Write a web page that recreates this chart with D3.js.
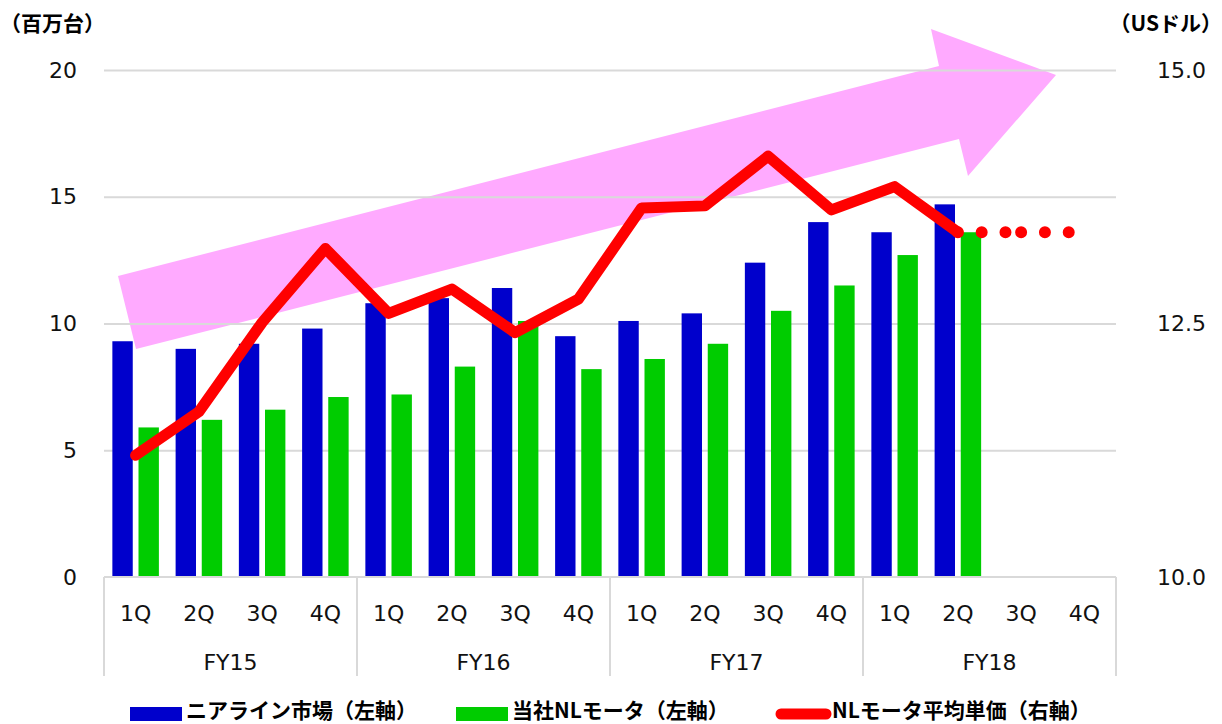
<!DOCTYPE html>
<html>
<head>
<meta charset="utf-8">
<script src="https://cdn.jsdelivr.net/npm/d3@7"></script>
<style>
  body { margin: 0; background: #fff; }
  svg { display: block; }
  .tick text { font-family: "DejaVu Sans", sans-serif; font-size: 22px; fill: #111; }
  .jp { font-family: "Noto Sans CJK JP", sans-serif; font-weight: 700; fill: #000; }
</style>
</head>
<body>
<div id="chart"></div>
<script>
// data
var years = ["FY15", "FY16", "FY17", "FY18"];
var quarters = ["1Q", "2Q", "3Q", "4Q"];
// nearline HDD market (million units, left axis)
var market = [9.3, 9.0, 9.2, 9.8, 10.8, 11.0, 11.4, 9.5, 10.1, 10.4, 12.4, 14.0, 13.6, 14.7, null, null];
// our NL motors (million units, left axis)
var ours = [5.9, 6.2, 6.6, 7.1, 7.2, 8.3, 10.1, 8.2, 8.6, 9.2, 10.5, 11.5, 12.7, 13.6, null, null];
// average unit price (USD, right axis)
var price = [11.2, 11.63, 12.51, 13.24, 12.6, 12.84, 12.41, 12.74, 13.64, 13.66, 14.15, 13.62, 13.85, 13.4, null, null];
// forecast part (dotted)
var priceFcst = [null, null, null, null, null, null, null, null, null, null, null, null, null, 13.4, 13.4, 13.4];
var leftTicks = [0, 5, 10, 15, 20];
var rightTicks = [10.0, 12.5, 15.0];

var legendNames = ["ニアライン市場（左軸）", "当社NLモータ（左軸）", "NLモータ平均単価（右軸）"];

// Set the dimensions of the SVG
var svgWidth = 1222;
var svgHeight = 724;
var margin = { top: 70, right: 106, bottom: 147, left: 104 };
var width = svgWidth - margin.left - margin.right;
var height = svgHeight - margin.top - margin.bottom;

var blue = "#0000CC";
var green = "#00CC00";
var red = "#FF0000";
var gridColor = "#D9D9D9";

var keys = [];
years.forEach(y => quarters.forEach(q => keys.push(y + "-" + q)));

var svg = d3.select("#chart").append("svg")
  .attr("width", svgWidth)
  .attr("height", svgHeight);

var chartGroup = svg.append("g")
  .attr("transform", `translate(${margin.left}, ${margin.top})`);

// scales
var x = d3.scaleBand().domain(keys).range([0, width]).padding(0);
var xSub = d3.scaleBand().domain(["market", "ours"]).range([0, x.bandwidth()])
  .paddingInner(0.22).paddingOuter(0.32);
var yLeft = d3.scaleLinear().domain([0, 20]).range([height, 0]);
var yRight = d3.scaleLinear().domain([10, 15]).range([height, 0]);

// the big pink arrow (decoration, page pixels)
var arrowPts = [[118, 276], [939, 66], [931, 29], [1056, 75], [968, 176], [959, 139], [136, 349]];
svg.insert("polygon", "g")
  .attr("points", arrowPts.map(p => p.join(",")).join(" "))
  .attr("fill", "#FFAAFF");

// gridlines
chartGroup.append("g")
  .call(d3.axisLeft(yLeft).tickValues(leftTicks.slice(1)).tickSize(-width).tickFormat(""))
  .call(g => g.select(".domain").remove())
  .call(g => g.selectAll("line").attr("stroke", gridColor).attr("stroke-width", 2));

// left axis labels
chartGroup.append("g")
  .attr("transform", "translate(-27,0)")
  .call(d3.axisLeft(yLeft).tickValues(leftTicks).tickSize(0).tickPadding(0))
  .call(g => g.select(".domain").remove());

// right axis labels
chartGroup.append("g")
  .attr("transform", `translate(${width + 41},0)`)
  .call(d3.axisRight(yRight).tickValues(rightTicks).tickSize(0).tickPadding(0).tickFormat(d3.format(".1f")))
  .call(g => g.select(".domain").remove())
  .call(g => g.selectAll("text").attr("text-anchor", "start"));

// bars
var rows = keys.map((k, i) => ({ key: k, market: market[i], ours: ours[i] }));
chartGroup.append("g").selectAll("rect.m")
  .data(rows.filter(d => d.market != null))
  .enter().append("rect")
  .attr("x", d => x(d.key) + xSub("market"))
  .attr("width", xSub.bandwidth())
  .attr("y", d => yLeft(d.market))
  .attr("height", d => height - yLeft(d.market))
  .attr("fill", blue);
chartGroup.append("g").selectAll("rect.o")
  .data(rows.filter(d => d.ours != null))
  .enter().append("rect")
  .attr("x", d => x(d.key) + xSub("ours"))
  .attr("width", xSub.bandwidth())
  .attr("y", d => yLeft(d.ours))
  .attr("height", d => height - yLeft(d.ours))
  .attr("fill", green);

// x axis line and category dividers
chartGroup.append("line")
  .attr("x1", 0).attr("x2", width).attr("y1", height).attr("y2", height)
  .attr("stroke", gridColor).attr("stroke-width", 2);
d3.range(years.length + 1).forEach(i => {
  var xx = i < years.length ? x(years[i] + "-1Q") : width;
  chartGroup.append("line")
    .attr("x1", xx).attr("x2", xx).attr("y1", height).attr("y2", height + 99)
    .attr("stroke", gridColor).attr("stroke-width", 2);
});

// quarter labels
chartGroup.append("g").attr("class", "tick").selectAll("text")
  .data(keys).enter().append("text")
  .attr("x", d => x(d) + x.bandwidth() / 2)
  .attr("y", height + 36)
  .attr("text-anchor", "middle")
  .attr("dominant-baseline", "central")
  .text(d => d.split("-")[1]);

// fiscal year labels
chartGroup.append("g").attr("class", "tick").selectAll("text")
  .data(years).enter().append("text")
  .attr("x", d => x(d + "-1Q") + x.bandwidth() * 2)
  .attr("y", height + 85)
  .attr("text-anchor", "middle")
  .attr("dominant-baseline", "central")
  .text(d => d);

// price line
var line = d3.line()
  .defined(d => d.v != null)
  .x(d => x(d.key) + x.bandwidth() / 2)
  .y(d => yRight(d.v));

// dotted forecast, one path per segment so the dots restart at each point
var fc = keys.map((k, i) => ({ key: k, v: priceFcst[i] })).filter(d => d.v != null);
for (var i = 0; i < fc.length - 1; i++) {
  chartGroup.append("path")
    .attr("d", line([fc[i], fc[i + 1]]))
    .attr("fill", "none")
    .attr("stroke", red)
    .attr("stroke-width", 12)
    .attr("stroke-linecap", "round")
    .attr("stroke-dasharray", "0 23.8");
}

chartGroup.append("path")
  .attr("d", line(keys.map((k, i) => ({ key: k, v: price[i] }))))
  .attr("fill", "none")
  .attr("stroke", red)
  .attr("stroke-width", 11)
  .attr("stroke-linejoin", "round")
  .attr("stroke-linecap", "round");

// axis titles
svg.append("text").attr("class", "jp")
  .attr("x", 0).attr("y", 22)
  .attr("dominant-baseline", "central")
  .style("font-size", "21px")
  .text("（百万台）");
svg.append("text").attr("class", "jp")
  .attr("x", 1222).attr("y", 22)
  .attr("text-anchor", "end")
  .attr("dominant-baseline", "central")
  .style("font-size", "21px")
  .text("（USドル）");

// legend
var legend = svg.append("g");
var legendX = [130, 456, 776];
var legendY = 713;
legend.append("rect").attr("x", legendX[0]).attr("y", legendY - 6).attr("width", 52).attr("height", 14).attr("fill", blue);
legend.append("rect").attr("x", legendX[1]).attr("y", legendY - 6).attr("width", 52).attr("height", 14).attr("fill", green);
legend.append("line")
  .attr("x1", legendX[2] + 5).attr("x2", legendX[2] + 50)
  .attr("y1", legendY + 1).attr("y2", legendY + 1)
  .attr("stroke", red).attr("stroke-width", 11).attr("stroke-linecap", "round");
legendNames.forEach((name, i) => {
  legend.append("text").attr("class", "jp")
    .attr("x", legendX[i] + 56)
    .attr("y", legendY - 4)
    .attr("dominant-baseline", "central")
    .style("font-size", "21px")
    .text(name);
});
</script>
</body>
</html>
